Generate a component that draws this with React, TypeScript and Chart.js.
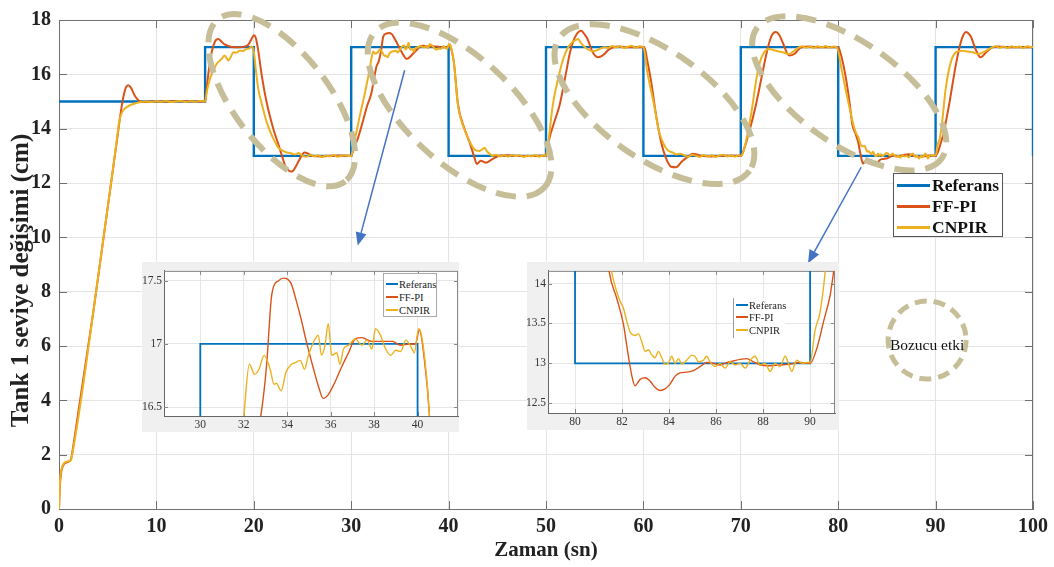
import React, { useEffect, useRef } from "react";
import { Chart, registerables } from "chart.js";

Chart.register(...registerables);

// ---------- data (time in s, level in cm) ----------
const SERIES_NAMES = ["Referans", "FF-PI", "CNPIR"];
const SERIES_COLORS = ["#0072BD", "#D95319", "#EDB120"];
const X_TITLE = "Zaman (sn)";
const Y_TITLE = "Tank 1 seviye değişimi (cm)";

const REF: number[][] = [
  [0, 15], [15, 15], [15, 17], [20, 17], [20, 13], [30, 13], [30, 17], [40, 17], [40, 13],
  [50, 13], [50, 17], [60, 17], [60, 13], [70, 13], [70, 17], [80, 17], [80, 13], [90, 13],
  [90, 17], [100, 17], [100, 13],
];

const FF_PI: number[][] = [
  [0, 0], [0.1, 0.9], [0.25, 1.4], [0.5, 1.65], [0.8, 1.72], [1.2, 1.8], [1.5, 2.4], [2, 3.6],
  [2.5, 4.8], [3, 6.0], [3.5, 7.2], [4, 8.5], [4.5, 9.8], [5, 11.1], [5.5, 12.4], [6, 13.7],
  [6.3, 14.5], [6.6, 15.15], [6.85, 15.5], [7.1, 15.6], [7.4, 15.5], [7.8, 15.2], [8.2, 15.03],
  [8.6, 14.98], [9.5, 15.0], [11, 15.0], [12.5, 15.01], [14, 15.0], [15, 15.0],
  [15.1, 15.3], [15.4, 16.2], [15.7, 16.85], [16.0, 17.2], [16.35, 17.3], [16.7, 17.2],
  [17.0, 17.1], [17.5, 17.03], [18, 17.0], [18.5, 17.0], [19, 17.02], [19.4, 17.08],
  [19.7, 17.25], [20.0, 17.44], [20.15, 17.4], [20.4, 17.0], [20.8, 16.0], [21.3, 15.0],
  [22.0, 14.0], [22.5, 13.45], [22.85, 13.05], [23.2, 12.65], [23.6, 12.45], [23.9, 12.42],
  [24.3, 12.6], [24.7, 12.87], [25.2, 13.12], [25.6, 13.08], [26, 13.0], [27, 12.98],
  [28, 13.0], [29, 13.01], [30, 13.0],
  [30.2, 13.2], [30.7, 13.66], [31.2, 14.27], [31.6, 14.8], [32.07, 15.3], [32.35, 15.85],
  [32.6, 16.3], [32.8, 16.45], [33.05, 16.83], [33.29, 17.39], [33.6, 17.5], [33.84, 17.52],
  [34.17, 17.48], [34.42, 17.34], [34.65, 17.19], [34.88, 17.02], [35.2, 16.81], [35.43, 16.67],
  [35.66, 16.57], [35.89, 16.6], [36.2, 16.7], [36.51, 16.82], [36.82, 16.93], [37.13, 17.04],
  [37.44, 17.05], [37.9, 17.02], [38.37, 17.02], [38.84, 17.02], [39.22, 16.99], [39.61, 17.0],
  [39.9, 17.0], [40.08, 17.11], [40.31, 16.88], [40.54, 16.45], [40.96, 14.9], [41.6, 14.03],
  [42.15, 13.5], [42.6, 13.0], [42.9, 12.7], [43.3, 12.82], [43.8, 12.75], [44.5, 12.88],
  [45.2, 13.0], [46, 13.02], [47, 13.0], [48, 12.99], [49, 13.0], [50, 13.0],
  [50.1, 13.2], [50.36, 13.66], [50.9, 14.3], [51.4, 14.87], [52.07, 16.08], [52.4, 16.7],
  [52.75, 17.17], [53.1, 17.45], [53.6, 17.6], [54.0, 17.45], [54.26, 17.3], [54.8, 16.81],
  [55.3, 16.63], [55.6, 16.65], [56.0, 16.75], [56.4, 16.9], [56.85, 16.99], [57.5, 17.02],
  [58.5, 17.0], [59.5, 17.0], [60.1, 17.0],
  [60.4, 16.5], [60.8, 15.72], [61.3, 14.5], [61.8, 13.54], [62.3, 12.93], [62.84, 12.6],
  [63.35, 12.58], [64.0, 12.81], [64.7, 13.0], [65.06, 13.08], [65.5, 13.05], [66, 13.0],
  [67, 12.98], [68, 13.0], [69, 13.0], [70, 13.0],
  [70.1, 13.03], [70.87, 13.9], [71.55, 14.87], [72.24, 16.08], [72.6, 16.7], [72.92, 17.17],
  [73.2, 17.45], [73.6, 17.56], [73.95, 17.45], [74.3, 17.17], [74.97, 16.69], [75.5, 16.75],
  [75.9, 16.9], [76.17, 16.99], [77, 17.02], [78, 17.0], [79, 17.0], [80, 17.0],
  [80.3, 16.7], [80.8, 15.84], [81.15, 15.0], [81.46, 14.14], [81.77, 13.82], [82.06, 13.49],
  [82.27, 13.09], [82.42, 12.84], [82.55, 12.72], [82.77, 12.8], [82.98, 12.82], [83.19, 12.78],
  [83.4, 12.7], [83.62, 12.66], [83.83, 12.68], [84.04, 12.74], [84.26, 12.84], [84.47, 12.88],
  [84.75, 12.89], [85.04, 12.91], [85.32, 12.96], [85.6, 13.01], [85.89, 13.0], [86.17, 12.98],
  [86.45, 13.01], [86.74, 13.03], [87.02, 13.05], [87.31, 13.06], [87.59, 13.02], [87.87, 12.98],
  [88.3, 12.97], [88.72, 12.98], [89.15, 12.99], [89.57, 13.01], [90.0, 13.0], [90.3, 13.2],
  [90.57, 13.52], [90.85, 13.85], [91.0, 14.14], [91.38, 14.87], [92.07, 16.33], [92.58, 17.17],
  [92.85, 17.45], [93.1, 17.56], [93.6, 17.4], [94.1, 16.93], [94.6, 16.63], [95.2, 16.81],
  [95.83, 16.99], [96.5, 17.02], [97.5, 17.0], [98.5, 17.0], [99.5, 17.0], [100, 17.0],
];

const CNPIR: number[][] = [
  [0, 0], [0.1, 1.0], [0.25, 1.45], [0.5, 1.68], [0.8, 1.74], [1.2, 1.8], [1.5, 2.3], [2, 3.4],
  [2.5, 4.6], [3, 5.9], [3.5, 7.2], [4, 8.5], [4.5, 9.8], [5, 11.1], [5.5, 12.4], [5.9, 13.5],
  [6.2, 14.3], [6.5, 14.62], [6.9, 14.78], [7.4, 14.88], [8.0, 14.95], [8.5, 14.99], [9, 15.0],
  [9.5, 14.98], [10, 15.01], [10.5, 14.99], [11, 15.02], [11.5, 14.98], [12, 15.0], [12.5, 15.02],
  [13, 14.98], [13.5, 15.01], [14, 14.99], [14.5, 15.02], [15, 15.0],
  [15.2, 15.4], [15.5, 15.84], [15.8, 16.1], [16.2, 16.39], [16.7, 16.57], [17.0, 16.69],
  [17.2, 16.6], [17.4, 16.51], [17.6, 16.62], [17.9, 16.81], [18.2, 16.8], [18.55, 16.87],
  [18.9, 16.86], [19.2, 16.93], [19.5, 16.95], [19.75, 17.02], [19.95, 16.95],
  [20.2, 16.2], [20.45, 15.48], [20.9, 14.8], [21.3, 14.27], [21.8, 13.79], [22.2, 13.5],
  [22.5, 13.31], [23.0, 13.18], [23.4, 13.12], [23.8, 13.1], [24.2, 13.05], [24.6, 13.1],
  [25.0, 13.0], [25.4, 12.97], [25.8, 13.03], [26.2, 12.98], [26.6, 13.02], [27.0, 12.96],
  [27.4, 13.01], [27.8, 12.98], [28.2, 13.03], [28.6, 12.97], [29.0, 13.0], [29.4, 13.02],
  [29.8, 12.99], [30.0, 13.0],
  [30.2, 13.3], [30.55, 13.9], [30.9, 14.5], [31.4, 15.3], [31.9, 16.2], [32.01, 16.44],
  [32.26, 16.84], [32.5, 16.76], [32.7, 16.8], [32.94, 16.91], [33.2, 16.81], [33.4, 16.68],
  [33.5, 16.69], [33.72, 16.63], [33.95, 16.78], [34.2, 16.84], [34.35, 16.85], [34.6, 16.87],
  [34.8, 16.8], [34.96, 16.9], [35.2, 17.01], [35.43, 17.07], [35.58, 16.91], [35.74, 16.99],
  [35.89, 17.16], [36.05, 16.91], [36.28, 16.93], [36.43, 16.84], [36.59, 16.96], [36.82, 16.99],
  [37.13, 17.04], [37.44, 16.99], [37.67, 17.03], [37.9, 16.96], [38.06, 17.12], [38.29, 17.07],
  [38.53, 16.96], [38.76, 16.91], [38.99, 16.95], [39.22, 16.94], [39.46, 17.03], [39.69, 16.98],
  [39.85, 16.93], [40.05, 17.12], [40.23, 17.02], [40.54, 16.45],
  [40.96, 14.87], [41.3, 14.3], [41.6, 14.0], [42.15, 13.54], [42.5, 13.3], [42.8, 13.2],
  [43.2, 13.18], [43.5, 13.25], [43.7, 13.3], [43.9, 13.18], [44.2, 13.08], [44.5, 13.0],
  [44.9, 13.04], [45.3, 12.98], [45.7, 13.02], [46.1, 12.97], [46.5, 13.03], [46.9, 12.99],
  [47.3, 13.02], [47.7, 12.96], [48.1, 13.01], [48.5, 12.98], [48.9, 13.03], [49.3, 12.97],
  [49.7, 13.01], [50.0, 13.0],
  [50.2, 13.4], [50.7, 14.87], [51.4, 16.08], [51.8, 16.6], [52.2, 16.95], [52.6, 17.15],
  [53.0, 17.25], [53.3, 17.3], [53.6, 17.15], [54.0, 17.0], [54.4, 16.9], [54.8, 16.85],
  [55.2, 16.88], [55.6, 16.95], [56.0, 17.0], [56.4, 16.98], [56.8, 17.04], [57.2, 16.99],
  [57.6, 17.03], [58.0, 16.97], [58.4, 17.02], [58.8, 17.05], [59.2, 16.98], [59.6, 17.03],
  [60.0, 17.0],
  [60.4, 16.08], [61.1, 14.87], [61.6, 13.9], [62.0, 13.5], [62.3, 13.3], [62.6, 13.18],
  [63.0, 13.12], [63.4, 13.05], [63.8, 13.08], [64.2, 13.02], [64.6, 12.97], [65.0, 13.04],
  [65.4, 13.0], [65.8, 12.96], [66.2, 13.03], [66.6, 12.98], [67.0, 13.02], [67.4, 12.96],
  [67.8, 13.01], [68.2, 13.04], [68.6, 12.98], [69.0, 13.01], [69.4, 12.97], [69.8, 13.02],
  [70.0, 13.0],
  [70.36, 13.27], [71.04, 14.5], [71.72, 16.08], [72.05, 16.55], [72.4, 16.81], [72.92, 16.93],
  [73.6, 16.87], [74.3, 16.81], [74.97, 16.75], [75.3, 16.82], [75.7, 16.93], [76.3, 17.03],
  [76.7, 16.98], [77.1, 17.02], [77.5, 16.97], [77.9, 17.03], [78.3, 16.99], [78.7, 17.04],
  [79.1, 16.98], [79.5, 17.02], [79.85, 17.0],
  [80.4, 16.08], [81.1, 14.87], [81.56, 14.14], [81.77, 13.9], [81.9, 13.79], [82.06, 13.69],
  [82.2, 13.53], [82.35, 13.39], [82.55, 13.35], [82.7, 13.37], [82.84, 13.27], [82.98, 13.15],
  [83.12, 13.17], [83.26, 13.11], [83.4, 13.07], [83.55, 13.15], [83.69, 13.07], [83.83, 12.99],
  [83.97, 13.0], [84.11, 13.09], [84.26, 13.0], [84.4, 13.06], [84.54, 12.99], [84.75, 13.04],
  [84.96, 13.1], [85.1, 13.09], [85.25, 13.02], [85.46, 13.04], [85.6, 13.09], [85.74, 13.02],
  [85.96, 12.96], [86.17, 13.0], [86.38, 12.94], [86.6, 13.02], [86.81, 12.98], [87.02, 13.0],
  [87.24, 12.94], [87.45, 13.04], [87.66, 13.09], [87.87, 12.98], [88.09, 13.0], [88.3, 12.9],
  [88.51, 13.0], [88.72, 12.96], [88.94, 13.09], [89.08, 13.0], [89.22, 12.9], [89.43, 13.04],
  [89.65, 13.0], [89.86, 13.01], [90.0, 13.01], [90.21, 13.41], [90.43, 13.65], [90.64, 14.14],
  [91.04, 15.48], [91.56, 16.45], [92.07, 16.81], [92.75, 16.87], [93.3, 16.84], [93.8, 16.81],
  [94.4, 16.75], [94.8, 16.8], [95.2, 16.87], [95.8, 16.99], [96.2, 17.03], [96.6, 16.98],
  [97.0, 17.02], [97.4, 16.97], [97.8, 17.03], [98.2, 16.99], [98.6, 17.02], [99.0, 16.97],
  [99.4, 17.03], [99.8, 17.0], [100, 17.01],
];

// inset windows and their ticks
const INSET1_X_RANGE = [28.33, 41.86];
const INSET1_Y_RANGE = [16.431, 17.577];
const INSET1_X_TICKS = [30, 32, 34, 36, 38, 40];
const INSET1_Y_TICKS = [16.5, 17, 17.5];
const INSET2_X_RANGE = [78.85, 91.06];
const INSET2_Y_RANGE = [12.378, 14.159];
const INSET2_X_TICKS = [80, 82, 84, 86, 88, 90];
const INSET2_Y_TICKS = [12.5, 13, 13.5, 14];

// annotations (centres in data units, sizes in px)
const ZOOM_MARKS = [
  { t: 22.87, v: 15.05, rx: 103, ry: 47, rot: 52 },
  { t: 41.13, v: 14.7, rx: 115, ry: 53, rot: 42.6 },
  { t: 61.13, v: 14.9, rx: 116, ry: 54, rot: 35 },
  { t: 81.13, v: 15.3, rx: 113, ry: 51, rot: 35 },
];
const DISTURBANCE = { t: 89.13, v: 6.22, r: 39, label: "Bozucu etki" };
const ARROWS = [
  { from: [35.49, 16.15], to: [30.67, 9.7] },
  { from: [82.36, 12.58], to: [76.9, 9.05] },
];

const SERIF = "'Liberation Serif', 'Times New Roman', serif";

const toXY = (arr: number[][]) => arr.map(([x, y]) => ({ x, y }));

function makeDatasets(lw: number) {
  return [
    { label: SERIES_NAMES[0], data: toXY(REF), borderColor: SERIES_COLORS[0], borderWidth: lw + 0.4, pointRadius: 0, tension: 0, order: 3 },
    { label: SERIES_NAMES[1], data: toXY(FF_PI), borderColor: SERIES_COLORS[1], borderWidth: lw, pointRadius: 0, cubicInterpolationMode: "monotone", order: 2 },
    { label: SERIES_NAMES[2], data: toXY(CNPIR), borderColor: SERIES_COLORS[2], borderWidth: lw, pointRadius: 0, cubicInterpolationMode: "monotone", order: 1 },
  ];
}

function framePlugin(len: number, color: string) {
  return {
    id: "frame",
    beforeDatasetsDraw(chart: any) {
      const { ctx, chartArea: ca, scales } = chart;
      ctx.save();
      ctx.strokeStyle = color;
      ctx.lineWidth = 1;
      ctx.beginPath();
      ctx.moveTo(ca.left, ca.top + 0.5);
      ctx.lineTo(ca.right, ca.top + 0.5);
      ctx.moveTo(ca.right - 0.5, ca.top);
      ctx.lineTo(ca.right - 0.5, ca.bottom);
      for (const t of scales.x.ticks) {
        const px = Math.round(scales.x.getPixelForValue(t.value)) + 0.5;
        ctx.moveTo(px, ca.bottom);
        ctx.lineTo(px, ca.bottom - len);
        ctx.moveTo(px, ca.top);
        ctx.lineTo(px, ca.top + len);
      }
      for (const t of scales.y.ticks) {
        const py = Math.round(scales.y.getPixelForValue(t.value)) + 0.5;
        ctx.moveTo(ca.left, py);
        ctx.lineTo(ca.left + len, py);
        ctx.moveTo(ca.right, py);
        ctx.lineTo(ca.right - len, py);
      }
      ctx.stroke();
      ctx.restore();
    },
  };
}

const insetBg = {
  id: "insetBg",
  beforeDraw(chart: any) {
    const { ctx, chartArea: ca, width, height } = chart;
    ctx.save();
    ctx.fillStyle = "#f0f0f0";
    ctx.fillRect(0, 0, width, height);
    ctx.fillStyle = "#ffffff";
    ctx.fillRect(ca.left, ca.top, ca.right - ca.left, ca.bottom - ca.top);
    ctx.restore();
  },
};

// y-axis title, centred a little below the plot middle as in the figure
const yTitle = {
  id: "yTitle",
  afterDraw(chart: any) {
    const { ctx, chartArea: ca } = chart;
    ctx.save();
    ctx.translate(22, (ca.top + ca.bottom) / 2 + 16);
    ctx.rotate(-Math.PI / 2);
    ctx.font = `bold 25px ${SERIF}`;
    ctx.fillStyle = "#222";
    ctx.textAlign = "center";
    ctx.textBaseline = "middle";
    ctx.fillText(Y_TITLE, 0, 0);
    ctx.restore();
  },
};

const annotations = {
  id: "annotations",
  afterDatasetsDraw(chart: any) {
    const { ctx, scales } = chart;
    const X = (v: number) => scales.x.getPixelForValue(v);
    const Y = (v: number) => scales.y.getPixelForValue(v);
    ctx.save();
    ctx.strokeStyle = "rgb(198,190,152)";
    ctx.lineWidth = 6;
    ctx.setLineDash([20, 11]);
    for (const e of ZOOM_MARKS) {
      ctx.beginPath();
      ctx.ellipse(X(e.t), Y(e.v), e.rx, e.ry, (e.rot * Math.PI) / 180, 0, Math.PI * 2);
      ctx.stroke();
    }
    ctx.lineWidth = 5;
    ctx.setLineDash([12, 7]);
    ctx.beginPath();
    ctx.arc(X(DISTURBANCE.t), Y(DISTURBANCE.v), DISTURBANCE.r, 0, Math.PI * 2);
    ctx.stroke();
    ctx.setLineDash([]);
    ctx.fillStyle = "#111";
    ctx.font = `15.5px ${SERIF}`;
    ctx.textAlign = "center";
    ctx.textBaseline = "middle";
    ctx.fillText(DISTURBANCE.label, X(DISTURBANCE.t), Y(DISTURBANCE.v) + 6);

    ctx.strokeStyle = "#4472C4";
    ctx.fillStyle = "#4472C4";
    ctx.lineWidth = 1.5;
    for (const a of ARROWS) {
      const x1 = X(a.from[0]), y1 = Y(a.from[1]);
      const x2 = X(a.to[0]), y2 = Y(a.to[1]);
      const ang = Math.atan2(y2 - y1, x2 - x1);
      const hl = 13, hw = 5.5;
      const bx = x2 - hl * Math.cos(ang), by = y2 - hl * Math.sin(ang);
      ctx.beginPath();
      ctx.moveTo(x1, y1);
      ctx.lineTo(bx, by);
      ctx.stroke();
      ctx.beginPath();
      ctx.moveTo(x2, y2);
      ctx.lineTo(bx - hw * Math.sin(ang), by + hw * Math.cos(ang));
      ctx.lineTo(bx + hw * Math.sin(ang), by - hw * Math.cos(ang));
      ctx.closePath();
      ctx.fill();
    }
    ctx.restore();
  },
};

function insetConfig(xr: number[], yr: number[], xt: number[], yt: number[], yw: number, xh: number, pad: any) {
  const tickFont = { family: SERIF, size: 11.5 };
  const fmt = (v: any) => `${v}`;
  return {
    type: "line",
    data: { datasets: makeDatasets(1.4) },
    options: {
      responsive: false,
      animation: false,
      devicePixelRatio: 1,
      layout: { padding: pad },
      plugins: { legend: { display: false }, tooltip: { enabled: false } },
      scales: {
        x: {
          type: "linear", min: xr[0], max: xr[1],
          afterBuildTicks: (s: any) => { s.ticks = xt.map((v) => ({ value: v })); },
          afterFit: (s: any) => { s.height = xh; },
          ticks: { font: tickFont, color: "#333", padding: 2, maxRotation: 0, autoSkip: false, callback: fmt },
          grid: { color: "#e6e6e6", drawTicks: false },
          border: { color: "#666" },
        },
        y: {
          type: "linear", min: yr[0], max: yr[1],
          afterBuildTicks: (s: any) => { s.ticks = yt.map((v) => ({ value: v })); },
          afterFit: (s: any) => { s.width = yw; },
          ticks: { font: tickFont, color: "#333", padding: 2, autoSkip: false, callback: fmt },
          grid: { color: "#e6e6e6", drawTicks: false },
          border: { color: "#666" },
        },
      },
    },
    plugins: [insetBg, framePlugin(4, "#888")],
  };
}

function InsetLegend(props: { left: number; top: number; width: number; height: number; rows: number[]; border: any }) {
  return (
    <div style={{ position: "absolute", left: props.left, top: props.top, width: props.width, height: props.height, background: "#fff", boxSizing: "border-box", ...props.border }}>
      {SERIES_NAMES.map((n, i) => (
        <div key={n} style={{ position: "absolute", left: 2, top: props.rows[i] - 7, height: 14, display: "flex", alignItems: "center", font: `10.5px ${SERIF}`, color: "#222", whiteSpace: "nowrap" }}>
          <span style={{ display: "inline-block", width: 12, height: 1.5, background: SERIES_COLORS[i] }} />
          <span style={{ marginLeft: 1 }}>{n}</span>
        </div>
      ))}
    </div>
  );
}

export default function App() {
  const mainRef = useRef<HTMLCanvasElement>(null);
  const in1Ref = useRef<HTMLCanvasElement>(null);
  const in2Ref = useRef<HTMLCanvasElement>(null);

  useEffect(() => {
    const tickFont = { family: SERIF, size: 20, weight: "bold" as const };
    const main = new Chart(mainRef.current as HTMLCanvasElement, {
      type: "line",
      data: { datasets: makeDatasets(2) as any },
      options: {
        responsive: false,
        animation: false,
        devicePixelRatio: 1,
        layout: { padding: { top: 14, right: 20, left: 0, bottom: 0 } },
        plugins: { legend: { display: false }, tooltip: { enabled: false } },
        scales: {
          x: {
            type: "linear", min: 0, max: 100,
            afterFit: (s: any) => { s.height = 58; },
            ticks: { stepSize: 10, font: tickFont, color: "#222", padding: 6, maxRotation: 0 },
            grid: { color: "#e4e4e4", drawTicks: false },
            border: { color: "#707070" },
            title: { display: true, text: X_TITLE, font: { family: SERIF, size: 21, weight: "bold" }, color: "#222", padding: { top: 0, bottom: 4 } },
          },
          y: {
            type: "linear", min: 0, max: 18,
            afterFit: (s: any) => { s.width = 59; },
            ticks: { stepSize: 2, font: tickFont, color: "#222", padding: 8 },
            grid: { color: "#e4e4e4", drawTicks: false },
            border: { color: "#707070" },
          },
        },
      } as any,
      plugins: [framePlugin(8, "#707070"), annotations, yTitle],
    });
    const in1 = new Chart(in1Ref.current as HTMLCanvasElement, insetConfig(INSET1_X_RANGE, INSET1_Y_RANGE, INSET1_X_TICKS, INSET1_Y_TICKS, 22, 16, { top: 5, right: 1, left: 0, bottom: 0 }) as any);
    const in2 = new Chart(in2Ref.current as HTMLCanvasElement, insetConfig(INSET2_X_RANGE, INSET2_Y_RANGE, INSET2_X_TICKS, INSET2_Y_TICKS, 21, 17, { top: 5, right: 4, left: 0, bottom: 0 }) as any);
    return () => {
      main.destroy();
      in1.destroy();
      in2.destroy();
    };
  }, []);

  return (
    <div style={{ position: "absolute", left: 0, top: 0, width: 1054, height: 567, background: "#fff", overflow: "hidden" }}>
      <canvas ref={mainRef} width={1054} height={567} style={{ position: "absolute", left: 0, top: 0 }} />
      <canvas ref={in1Ref} width={317} height={170} style={{ position: "absolute", left: 142, top: 262 }} />
      <canvas ref={in2Ref} width={312} height={168} style={{ position: "absolute", left: 527, top: 262 }} />
      <div style={{ position: "absolute", left: 893, top: 173, width: 110, height: 64, background: "#fff", border: "1px solid #555", boxSizing: "border-box" }}>
        {SERIES_NAMES.map((n, i) => (
          <div key={n} style={{ position: "absolute", left: 3, top: 1 + i * 21, height: 21, display: "flex", alignItems: "center", font: `bold 17.5px ${SERIF}`, color: "#111", whiteSpace: "nowrap" }}>
            <span style={{ display: "inline-block", width: 33, height: 3, background: SERIES_COLORS[i] }} />
            <span style={{ marginLeft: 2 }}>{n}</span>
          </div>
        ))}
      </div>
      <InsetLegend left={383} top={273} width={54} height={44} rows={[10, 23, 36]} border={{ border: "1px solid #aaa" }} />
      <InsetLegend left={733} top={298} width={52} height={40} rows={[7, 19, 32]} border={{ borderLeft: "1px solid #999" }} />
    </div>
  );
}
